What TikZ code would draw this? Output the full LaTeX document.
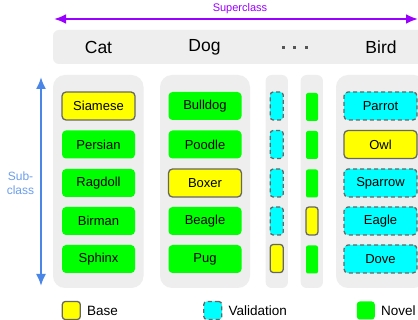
\documentclass[tikz,border=0pt]{standalone}
\usepackage{fontspec}
\setmainfont{Liberation Sans}
\usetikzlibrary{arrows.meta}
\definecolor{bgc}{HTML}{EEEEEE}
\definecolor{bordc}{HTML}{666666}
\definecolor{yel}{HTML}{FFFF00}
\definecolor{grn}{HTML}{00FF00}
\definecolor{cya}{HTML}{00FFFF}
\definecolor{purp}{HTML}{9900FF}
\definecolor{blu}{HTML}{4A86E8}
\definecolor{blut}{HTML}{6D9EEB}
\definecolor{dotc}{HTML}{555555}
\tikzset{
  colbox/.style={fill=bgc, draw=none, rounded corners=12pt, minimum height=213pt, inner sep=0pt},
  basebox/.style={draw=bordc, fill=yel, line width=1.3pt, rounded corners=4pt,
    minimum width=73pt, minimum height=28pt, inner sep=0pt, font=\fontsize{13}{15}\selectfont},
  valbox/.style={basebox, fill=cya, dash pattern=on 4pt off 3pt},
  novbox/.style={basebox, fill=grn, draw=none},
  narrowbox/.style={minimum width=13pt, rounded corners=3pt},
  head/.style={font=\fontsize{17.5}{20}\selectfont, inner sep=0pt},
  legsq/.style={minimum width=18pt, minimum height=18pt, rounded corners=3pt},
  legtxt/.style={anchor=west, inner sep=0pt, font=\fontsize{13.5}{16}\selectfont},
  dotsq/.style={fill=dotc, minimum size=3pt, inner sep=0pt, draw=none},
}
\begin{document}
\begin{tikzpicture}[x=1pt,y=-1pt]
\path[use as bounding box, clip] (0,0) rectangle (418,320);
\fill[white] (0,0) rectangle (418,320);

% superclass arrow
\coordinate (supL) at (54,19);
\coordinate (supR) at (418,19);
\draw[purp, line width=2.5pt, {Latex[length=12pt,width=10pt]}-{Latex[length=12pt,width=10pt]}] (supL) -- (supR);
\node[purp, inner sep=0pt, font=\fontsize{11}{13}\selectfont] (suplab) at (240,9) {Superclass};

% header band
\node[fill=bgc, rounded corners=6pt, minimum width=387pt, minimum height=34pt, inner sep=0pt] (header) at (246.5,47) {};
\node[head] (hcat) at (98.5,47.5) {Cat};
\node[head] (hdog) at (204.5,47.5) {Dog};
\node[dotsq] (d1) at (283.3,47.7) {};
\node[dotsq] (d2) at (294.7,47.7) {};
\node[dotsq] (d3) at (306.3,47.7) {};
\node[head] (hbird) at (381,47.5) {Bird};

% columns
\node[colbox, minimum width=90.5pt] (catcol) at (98.25,181.5) {};
\node[colbox, minimum width=90pt] (dogcol) at (205,181.5) {};
\node[colbox, minimum width=22.3pt, rounded corners=6pt] (n1col) at (276.8,181.5) {};
\node[colbox, minimum width=22.3pt, rounded corners=6pt] (n2col) at (311.8,181.5) {};
\node[colbox, minimum width=90pt] (birdcol) at (381,181.5) {};

% cat
\node[basebox] (siamese) at (98.5,106) {Siamese};
\node[novbox] (persian) at (98.5,144.5) {Persian};
\node[novbox] (ragdoll) at (98.5,183) {Ragdoll};
\node[novbox] (birman) at (98.5,221) {Birman};
\node[novbox] (sphinx) at (98.5,259) {Sphinx};
% dog
\node[novbox] (bulldog) at (205,106) {Bulldog};
\node[novbox] (poodle) at (205,144.5) {Poodle};
\node[basebox] (boxer) at (205,183) {Boxer};
\node[novbox] (beagle) at (205,221) {Beagle};
\node[novbox] (pug) at (205,259) {Pug};
% narrow 1
\node[valbox, narrowbox] (a1) at (276.7,106) {};
\node[valbox, narrowbox] (a2) at (276.7,144.5) {};
\node[valbox, narrowbox] (a3) at (276.7,183) {};
\node[valbox, narrowbox] (a4) at (276.7,221) {};
\node[basebox, narrowbox] (a5) at (276.7,258.5) {};
% narrow 2
\node[novbox, narrowbox, minimum width=12pt, rounded corners=2pt] (b1) at (312,107) {};
\node[novbox, narrowbox, minimum width=12pt, rounded corners=2pt] (b2) at (312,145) {};
\node[novbox, narrowbox, minimum width=12pt, rounded corners=2pt] (b3) at (312,183.5) {};
\node[basebox, narrowbox, minimum width=12pt] (b4) at (312,221) {};
\node[novbox, narrowbox, minimum width=12pt, rounded corners=2pt] (b5) at (312,259.5) {};
% bird
\node[valbox] (parrot) at (380.5,106) {Parrot};
\node[basebox] (owl) at (380.5,144.5) {Owl};
\node[valbox] (sparrow) at (380.5,183) {Sparrow};
\node[valbox] (eagle) at (380.5,221) {Eagle};
\node[valbox] (dove) at (380.5,259) {Dove};

% subclass arrow
\coordinate (subT) at (41,77);
\coordinate (subB) at (41,286);
\draw[blu, line width=2pt, {Latex[length=12pt,width=10pt]}-{Latex[length=12pt,width=10pt]}] (subT) -- (subB);
\node[blut, align=center, inner sep=0pt, font=\fontsize{12}{14}\selectfont] (sublab) at (20.5,183.5) {Sub-\\class};

% legend
\node[basebox, legsq] (lbase) at (71.3,310.5) {};
\node[legtxt] (tbase) at (87,311) {Base};
\node[valbox, legsq] (lval) at (212.8,310.5) {};
\node[legtxt] (tval) at (228.3,311) {Validation};
\node[novbox, legsq] (lnov) at (365.8,310.5) {};
\node[legtxt] (tnov) at (381,311) {Novel};
\end{tikzpicture}
\end{document}
